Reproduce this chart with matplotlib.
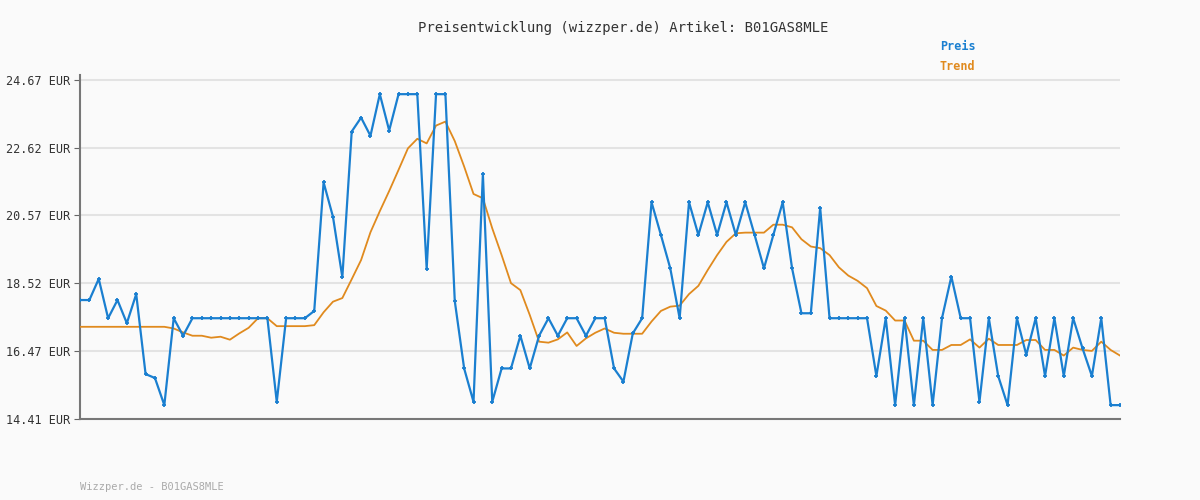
import matplotlib
matplotlib.use("Agg")
import matplotlib.pyplot as plt
import numpy as np

preis = [18.01, 18.01, 18.65, 17.46, 18.01, 17.31, 18.19, 15.77, 15.65, 14.83,
         17.46, 16.93, 17.46, 17.46, 17.46, 17.46, 17.46, 17.46, 17.46, 17.46,
         17.46, 14.93, 17.46, 17.46, 17.46, 17.68, 21.57, 20.53, 18.70, 23.11,
         23.53, 22.98, 24.24, 23.14, 24.24, 24.24, 24.24, 18.96, 24.24, 24.24,
         17.98, 15.94, 14.93, 21.82, 14.93, 15.94, 15.94, 16.93, 15.94, 16.93,
         17.46, 16.93, 17.46, 17.46, 16.93, 17.46, 17.46, 15.94, 15.54, 17.00,
         17.46, 20.97, 19.98, 18.97, 17.46, 20.97, 19.98, 20.97, 19.98, 20.97,
         19.98, 20.97, 19.98, 18.97, 19.98, 20.97, 18.97, 17.61, 17.61, 20.80,
         17.46, 17.46, 17.46, 17.46, 17.46, 15.71, 17.46, 14.83, 17.46, 14.83,
         17.46, 14.83, 17.46, 18.72, 17.46, 17.46, 14.93, 17.46, 15.71, 14.83,
         17.46, 16.35, 17.46, 15.71, 17.46, 15.71, 17.46, 16.55, 15.71, 17.46,
         14.83, 14.83]

trend = [17.20] * 10 + [
         17.15, 17.03, 16.93, 16.93, 16.87, 16.90, 16.81, 17.00, 17.17, 17.46,
         17.46, 17.22, 17.22, 17.22, 17.22, 17.25, 17.64, 17.96, 18.07, 18.64,
         19.22, 20.06, 20.70, 21.31, 21.95, 22.60, 22.89, 22.75, 23.29, 23.41,
         22.82, 22.05, 21.22, 21.09, 20.18, 19.37, 18.52, 18.31, 17.56, 16.75,
         16.72, 16.82, 17.03, 16.62, 16.85, 17.02, 17.15, 17.02, 16.99, 16.99,
         16.99, 17.36, 17.68, 17.81, 17.84, 18.19, 18.44, 18.92, 19.37, 19.77,
         20.03, 20.05, 20.05, 20.05, 20.29, 20.29, 20.21, 19.85, 19.63, 19.58,
         19.37, 19.00, 18.75, 18.59, 18.37, 17.83, 17.69, 17.39, 17.39, 16.78,
         16.78, 16.50, 16.50, 16.65, 16.65, 16.82, 16.57, 16.84, 16.65, 16.65,
         16.65, 16.80, 16.80, 16.50, 16.50, 16.33, 16.57, 16.50, 16.47, 16.75,
         16.50, 16.33]

yticks = [14.41, 16.47, 18.52, 20.57, 22.62, 24.67]
ytick_labels = [f"{v:.2f} EUR" for v in yticks]

mono = "DejaVu Sans Mono"
bg = "#fafafa"
blue = "#1a7fd0"
orange = "#e08a1e"

fig = plt.figure(figsize=(12, 5), dpi=100, facecolor=bg)
ax = fig.add_axes([80 / 1200, 81 / 500, 1040 / 1200, 344 / 500], facecolor=bg)

x = np.arange(len(preis))
ax.plot(np.arange(len(trend)), trend, color=orange, lw=1.3, zorder=3)
ax.plot(x, preis, color=blue, lw=1.6, marker="+", ms=3.5, mew=1.3, zorder=4)

ax.set_xlim(0, len(preis) - 1)
ax.set_ylim(14.41, 24.82)
ax.set_yticks(yticks)
ax.set_yticklabels(ytick_labels, fontfamily=mono, fontsize=8.5, color="#333333")
ax.set_xticks([])
ax.tick_params(axis="y", length=4, color="#666666", pad=3)
ax.grid(axis="y", color="#e3e3e3", lw=1.5)
ax.set_axisbelow(True)
for s in ["top", "right"]:
    ax.spines[s].set_visible(False)
for s in ["left", "bottom"]:
    ax.spines[s].set_color("#777777")
    ax.spines[s].set_linewidth(1.5)

fig.text(623 / 1200, 1 - 28 / 500, "Preisentwicklung (wizzper.de) Artikel: B01GAS8MLE",
         ha="center", va="center", fontfamily=mono, fontsize=10, color="#333333")
fig.text(940 / 1200, 1 - 47 / 500, "Preis", ha="left", va="center",
         fontfamily=mono, fontsize=8.5, fontweight="bold", color=blue)
fig.text(940 / 1200, 1 - 67 / 500, "Trend", ha="left", va="center",
         fontfamily=mono, fontsize=8.5, fontweight="bold", color=orange)
fig.text(80 / 1200, 1 - 487 / 500, "Wizzper.de - B01GAS8MLE", ha="left", va="center",
         fontfamily=mono, fontsize=7.5, color="#aaaaaa")

fig.savefig("out.png", dpi=100, facecolor=bg)
